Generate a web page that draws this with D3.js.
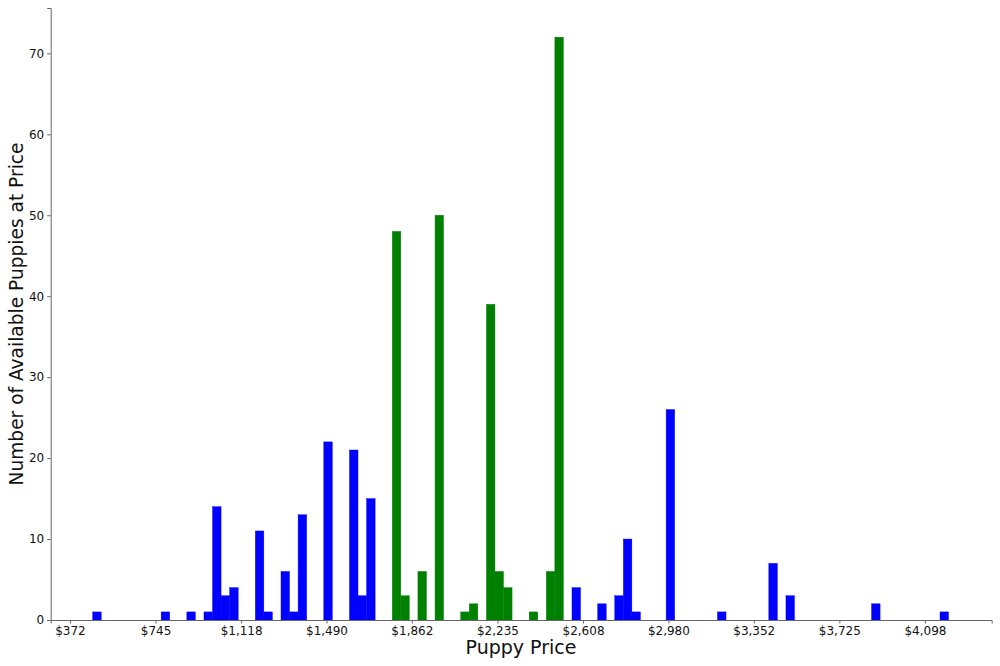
<!DOCTYPE html>
<html>
<head>
<meta charset="utf-8">
<script src="https://cdn.jsdelivr.net/npm/d3@7/dist/d3.min.js"></script>
<style>
  body { margin: 0; background: #fff; }
  svg text { font-family: "DejaVu Sans", sans-serif; }
</style>
</head>
<body>
<svg id="chart" width="1000" height="666"></svg>
<script>
// histogram bins: lower edge of bin 0 and bin width, in dollars
const priceMin = 471;
const binWidth = 37.3;

// bins outside the middle price band (blue)
const blueBins   = [0, 8, 11, 13, 14, 15, 16, 19, 20, 22, 23, 24, 27, 30, 31, 32, 56, 59, 61, 62, 63, 67, 73, 79, 81, 91, 99];
const blueCounts = [1, 1,  1,  1, 14,  3,  4, 11,  1,  6,  1, 13, 22, 21,  3, 15,  4,  2,  3, 10,  1, 26,  1,  7,  3,  2,  1];

// bins inside the middle price band (green)
const greenBins   = [35, 36, 38, 40, 43, 44, 46, 47, 48, 51, 53, 54];
const greenCounts = [48,  3,  6, 50,  1,  2, 39,  6,  4,  1,  6, 72];

const xTicks = [372, 745, 1118, 1490, 1862, 2235, 2608, 2980, 3352, 3725, 4098];
const yTicks = [0, 10, 20, 30, 40, 50, 60, 70];

const margin = {left: 50.7, right: 8.3, top: 8, bottom: 46};
const W = 1000, H = 666;

const svg = d3.select("#chart");

const x = d3.scaleLinear()
    .domain([288, 4389])
    .range([margin.left, W - margin.right]);

const y = d3.scaleLinear()
    .domain([0, 75.6])
    .range([H - margin.bottom, margin.top]);

const bars = [];
blueBins.forEach((b, i) => bars.push({bin: b, count: blueCounts[i], color: "#0000ff"}));
greenBins.forEach((b, i) => bars.push({bin: b, count: greenCounts[i], color: "#008000"}));

svg.append("g")
  .selectAll("rect")
  .data(bars)
  .join("rect")
    .attr("x", d => x(priceMin + d.bin * binWidth))
    .attr("width", d => x(priceMin + (d.bin + 1) * binWidth) - x(priceMin + d.bin * binWidth))
    .attr("y", d => y(d.count))
    .attr("height", d => y(0) - y(d.count))
    .attr("fill", d => d.color)
    .attr("stroke", d => d.color)
    .attr("stroke-width", 0.4);

const fmt = d3.format("$,");

const xAxis = svg.append("g")
    .attr("transform", `translate(0,${H - margin.bottom})`)
    .call(d3.axisBottom(x).tickValues(xTicks).tickFormat(d => fmt(d)).tickSizeOuter(0).tickSize(3.5).tickPadding(3));

const yAxis = svg.append("g")
    .attr("transform", `translate(${margin.left},0)`)
    .call(d3.axisLeft(y).tickValues(yTicks).tickSizeOuter(0).tickSize(3.5).tickPadding(3));

[xAxis, yAxis].forEach(a => {
  a.select(".domain").attr("stroke", "#666").attr("stroke-width", 1);
  a.selectAll(".tick line").attr("stroke", "#666");
  a.selectAll(".tick text").attr("fill", "#111").style("font-size", "12px").style("font-family", "DejaVu Sans, sans-serif");
});

svg.append("text")
    .attr("x", 521)
    .attr("y", 654)
    .attr("text-anchor", "middle")
    .style("font-size", "19px")
    .attr("fill", "#111")
    .text("Puppy Price");

svg.append("text")
    .attr("transform", `translate(23,${(margin.top + H - margin.bottom) / 2}) rotate(-90)`)
    .attr("text-anchor", "middle")
    .style("font-size", "18.6px")
    .attr("fill", "#111")
    .text("Number of Available Puppies at Price");
</script>
</body>
</html>
